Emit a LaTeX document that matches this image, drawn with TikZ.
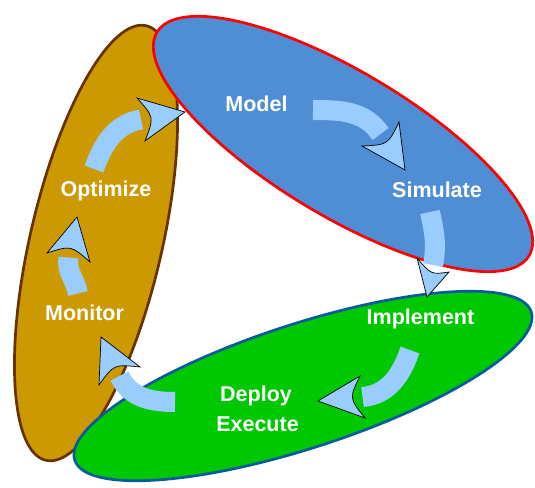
\documentclass[tikz,border=0pt]{standalone}
\usepackage{fontspec}
\setmainfont{Liberation Sans}
\usetikzlibrary{calc}

\definecolor{ochre}{HTML}{CC9900}
\definecolor{ochreline}{HTML}{663300}
\definecolor{modelblue}{HTML}{4F8ED4}
\definecolor{deploygreen}{HTML}{00C800}
\definecolor{greenline}{HTML}{0A5A9C}
\definecolor{flowblue}{HTML}{99CCFF}

\tikzset{
  phase/.style={line width=2.7pt},
  stagelabel/.style={text=white, font=\fontsize{21.5}{24}\selectfont\bfseries, anchor=base, inner sep=0pt},
  arrowshaft/.style={draw=flowblue, line width=20pt},
  arrowhead/.style={fill=flowblue, draw=black, line width=0.7pt, line join=miter}
}

% curved flow arrow: #1 name prefix, #2 out angle, #3 in angle
\newcommand{\cyclearrow}[3]{%
  \coordinate (#1-b) at ($(#1-l)!0.5!(#1-r)$);
  \coordinate (#1-c) at ($(#1-b)!0.3!(#1-t)$);
  \draw[arrowshaft] (#1-a) to[out=#2,in=#3] (#1-b);
  \filldraw[arrowhead] (#1-l) -- (#1-t) -- (#1-r) .. controls (#1-c) .. (#1-l) -- cycle;
}

\begin{document}
\begin{tikzpicture}[x=1pt, y=1pt]
  \useasboundingbox (0,0) rectangle (535,487);

  % Left phase
  \draw[phase, draw=ochreline, fill=ochre, rotate around={77:(96,244)}] (96,244) ellipse [x radius=223, y radius=66];
  % Bottom phase
  \draw[phase, draw=greenline, fill=deploygreen, rotate around={18:(303,101)}] (303,101) ellipse [x radius=240, y radius=62];
  % Top phase
  \draw[phase, draw=red, fill=modelblue, rotate around={-31:(343,343)}] (343,343) ellipse [x radius=217, y radius=72];

  % Stage labels
  \node[stagelabel] (model) at (256.5,375) {Model};
  \node[stagelabel] (simulate) at (437,289) {Simulate};
  \node[stagelabel] (implement) at (420.5,162) {Implement};
  \node[stagelabel] (deploy) at (256,85.3) {Deploy};
  \node[stagelabel] (execute) at (257.5,55.3) {Execute};
  \node[stagelabel] (monitor) at (84.5,166.5) {Monitor};
  \node[stagelabel] (optimize) at (106,290.5) {Optimize};

  % Model -> Simulate
  \coordinate (ms-a) at (313,377);
  \coordinate (ms-l) at (362,341);
  \coordinate (ms-r) at (399,365);
  \coordinate (ms-t) at (405,317);
  \cyclearrow{ms}{0}{124}

  % Simulate -> Implement
  \coordinate (si-a) at (430,275);
  \coordinate (si-l) at (417,229);
  \coordinate (si-r) at (449,215);
  \coordinate (si-t) at (427,190);
  \cyclearrow{si}{-78}{79}

  % Implement -> Deploy
  \coordinate (id-a) at (410,137);
  \coordinate (id-l) at (360,111);
  \coordinate (id-r) at (365,69);
  \coordinate (id-t) at (318,86);
  \cyclearrow{id}{-109}{5}

  % Deploy -> Monitor
  \coordinate (dm-a) at (175,85);
  \coordinate (dm-l) at (140,120);
  \coordinate (dm-r) at (99,102);
  \coordinate (dm-t) at (101,150);
  \cyclearrow{dm}{180}{-65}

  % Monitor -> Optimize
  \coordinate (mo-a) at (78,193.5);
  \coordinate (mo-l) at (47,234);
  \coordinate (mo-r) at (90,225);
  \coordinate (mo-t) at (77,270);
  \cyclearrow{mo}{100}{-100}

  % Optimize -> Model
  \coordinate (om-a) at (94,318);
  \coordinate (om-l) at (137,389);
  \coordinate (om-r) at (145,346);
  \coordinate (om-t) at (185,375);
  \cyclearrow{om}{70}{190}
\end{tikzpicture}
\end{document}
